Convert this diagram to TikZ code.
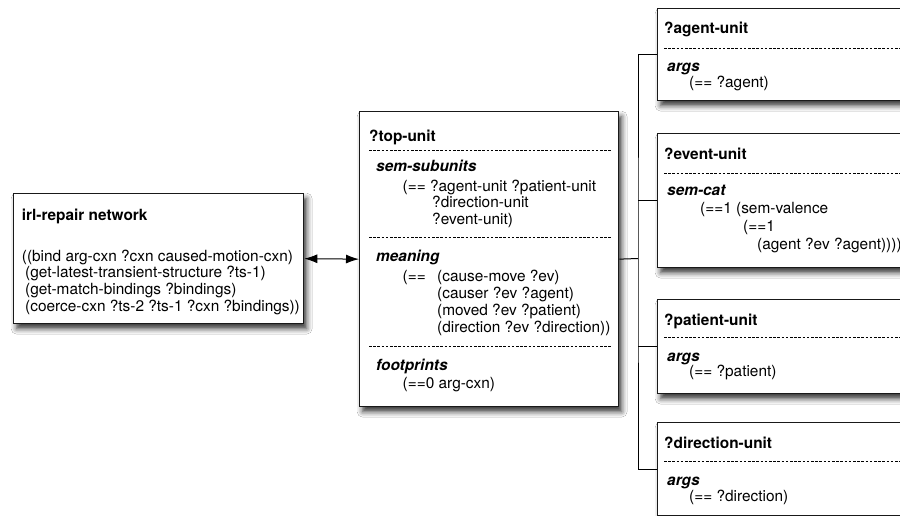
\documentclass[tikz,border=0pt]{standalone}
\usepackage{fontspec}
\setmainfont{TeX Gyre Heros}
\usetikzlibrary{arrows.meta,shadows.blur}
\begin{document}
\begin{tikzpicture}[x=1pt,y=-1pt,
  box/.style={draw=black!90, line width=1.3pt, fill=white, rectangle, inner sep=0pt,
    anchor=north west,
    blur shadow={shadow xshift=3pt, shadow yshift=-5pt, shadow blur radius=5.5pt, shadow opacity=80}},
  txt/.style={anchor=base west, inner sep=0pt, font=\fontsize{15.4}{17}\selectfont},
  ttl/.style={txt, font=\fontsize{15.4}{17}\selectfont\bfseries},
  slot/.style={txt, font=\fontsize{15.4}{17}\selectfont\bfseries\itshape},
  sep/.style={line width=0.8pt, dash pattern=on 2.6pt off 1.6pt},
  wire/.style={line width=1pt},
  twoway/.style={wire, <->, >={Latex[length=13pt,width=9pt]}}]
\clip (0,0) rectangle (900,516);
\fill[white] (0,0) rectangle (900,516);

% boxes
\node[box, minimum width=290pt, minimum height=130pt] (irl) at (13,193) {};
\node[box, minimum width=259pt, minimum height=295pt] (top) at (359,111) {};
\node[box, minimum width=260pt, minimum height=92pt]  (agent) at (657,8) {};
\node[box, minimum width=260pt, minimum height=134pt] (event) at (657,133) {};
\node[box, minimum width=260pt, minimum height=94pt]  (patient) at (657,299) {};
\node[box, minimum width=260pt, minimum height=93pt]  (dir) at (657,422) {};

% irl-repair network
\node[ttl] (irlT) at (21.7,220) {irl-repair network};
\node[txt] (irl1) at (21.7,261.7) {((bind arg-cxn ?cxn caused-motion-cxn)};
\node[txt] (irl2) at (25,277.7) {(get-latest-transient-structure ?ts-1)};
\node[txt] (irl3) at (25,294.3) {(get-match-bindings ?bindings)};
\node[txt] (irl4) at (25,311) {(coerce-cxn ?ts-2 ?ts-1 ?cxn ?bindings))};

% ?top-unit
\node[ttl] (topT) at (369,141.5) {?top-unit};
\draw[sep] (369,150.7) -- (612,150.7);
\node[slot] (ss) at (376,171.5) {sem-subunits};
\node[txt] (ss1) at (402.5,191) {(== ?agent-unit ?patient-unit};
\node[txt] (ss2) at (432,207.5) {?direction-unit};
\node[txt] (ss3) at (432,224) {?event-unit)};
\draw[sep] (369,237) -- (612,237);
\node[slot] (mn) at (376,261.5) {meaning};
\node[txt] (mn0) at (402.5,281.5) {(==};
\node[txt] (mn1) at (437,281.5) {(cause-move ?ev)};
\node[txt] (mn2) at (437,298.5) {(causer ?ev ?agent)};
\node[txt] (mn3) at (437,315.5) {(moved ?ev ?patient)};
\node[txt] (mn4) at (437,332.5) {(direction ?ev ?direction))};
\draw[sep] (369,346.7) -- (612,346.7);
\node[slot] (fp) at (376,370) {footprints};
\node[txt] (fp1) at (402.5,388) {(==0 arg-cxn)};

% ?agent-unit
\node[ttl] (agT) at (664,34) {?agent-unit};
\draw[sep] (664,48.3) -- (900,48.3);
\node[slot] (agA) at (667,72) {args};
\node[txt] (ag1) at (689,88) {(== ?agent)};

% ?event-unit
\node[ttl] (evT) at (664,160) {?event-unit};
\draw[sep] (664,173) -- (900,173);
\node[slot] (evS) at (667,196) {sem-cat};
\node[txt] (ev1) at (700,214) {(==1 (sem-valence};
\node[txt] (ev2) at (743,231.5) {(==1};
\node[txt] (ev3) at (757,249) {(agent ?ev ?agent))))};

% ?patient-unit
\node[ttl] (paT) at (664,325) {?patient-unit};
\draw[sep] (664,337.3) -- (900,337.3);
\node[slot] (paA) at (667,361) {args};
\node[txt] (pa1) at (689,376.7) {(== ?patient)};

% ?direction-unit
\node[ttl] (drT) at (664,448.3) {?direction-unit};
\draw[sep] (664,461.7) -- (900,461.7);
\node[slot] (drA) at (667,485) {args};
\node[txt] (dr1) at (689,501.7) {(== ?direction)};

% connectors
\coordinate (bus) at (638,258.5);
\draw[twoway] (irl.east) -- (top.west);
\draw[wire] (top.east) -- (bus);
\draw[wire] (agent.west) -| (bus) |- (dir.west);
\draw[wire] (bus |- event.west) -- (event.west);
\draw[wire] (bus |- patient.west) -- (patient.west);
\end{tikzpicture}
\end{document}
